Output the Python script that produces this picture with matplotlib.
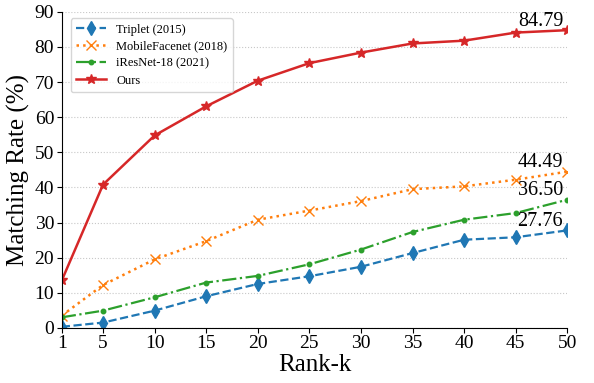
import matplotlib
matplotlib.use("Agg")
import matplotlib.pyplot as plt

# data
RANKS = [1, 5, 10, 15, 20, 25, 30, 35, 40, 45, 50]
TRIPLET = [0.3, 1.5, 4.9, 9.0, 12.5, 14.7, 17.4, 21.3, 25.1, 25.8, 27.76]
MOBILEFACENET = [3.5, 12.2, 19.5, 24.7, 30.8, 33.4, 36.1, 39.5, 40.3, 42.2, 44.49]
IRESNET = [3.0, 4.9, 8.7, 12.9, 14.8, 18.1, 22.3, 27.3, 30.8, 32.7, 36.50]
OURS = [13.5, 40.8, 54.8, 63.1, 70.4, 75.4, 78.4, 81.0, 81.8, 84.1, 84.79]

XTICKS = [1, 5, 10, 15, 20, 25, 30, 35, 40, 45, 50]
YTICKS = [0, 10, 20, 30, 40, 50, 60, 70, 80, 90]

plt.rcParams["font.family"] = ["Liberation Serif", "DejaVu Serif"]

fig = plt.figure(figsize=(5.94, 3.83), dpi=100)
ax = fig.add_axes([0.104, 0.144, 0.851, 0.825])

ax.plot(RANKS, TRIPLET, linestyle="--", marker="d", markersize=7.5,
        color="#1f77b4", linewidth=1.6, label="Triplet (2015)")
ax.plot(RANKS, MOBILEFACENET, linestyle=":", marker="x", markersize=6.5,
        color="#ff7f0e", linewidth=1.8, label="MobileFacenet (2018)")
ax.plot(RANKS, IRESNET, linestyle="-.", marker=".", markersize=6.5,
        color="#2ca02c", linewidth=1.6, label="iResNet-18 (2021)")
ax.plot(RANKS, OURS, linestyle="-", marker="*", markersize=7,
        color="#d62728", linewidth=1.8, label="Ours")

# final-value labels
for series in [OURS, MOBILEFACENET, IRESNET, TRIPLET]:
    ax.text(49.6, series[-1] + 1.2, f"{series[-1]:.2f}", fontsize=14.5,
            ha="right", va="baseline")

ax.set_xlim(1, 50)
ax.set_ylim(0, 90)
ax.set_xticks(XTICKS)
ax.set_yticks(YTICKS)
ax.tick_params(labelsize=14, length=3.5, pad=2)
ax.set_xlabel("Rank-k", fontsize=18, labelpad=1)
ax.set_ylabel("Matching Rate (%)", fontsize=18, labelpad=3)

ax.grid(axis="y", linestyle=":", color="#c8c8c8", linewidth=0.8)
ax.spines["top"].set_visible(False)
ax.spines["right"].set_visible(False)

ax.legend(loc="upper left", fontsize=9, frameon=True, handlelength=2.4,
          borderpad=0.45, labelspacing=0.4, handletextpad=0.8,
          bbox_to_anchor=(0.005, 1.0))

fig.savefig("out.png", dpi=100)
